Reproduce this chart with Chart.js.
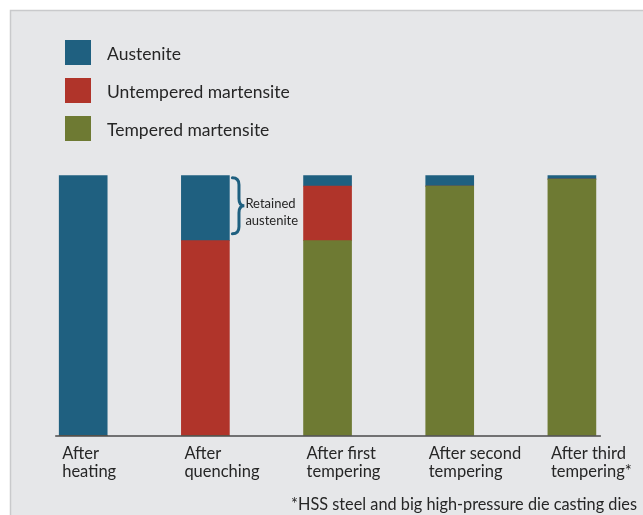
<!DOCTYPE html>
<html>
<head>
<meta charset="utf-8">
<script src="https://cdn.jsdelivr.net/npm/chart.js@4/dist/chart.umd.min.js"></script>
<style>
  html, body { margin: 0; padding: 0; background: #ffffff; }
  #c { display: block; }
</style>
</head>
<body>
<canvas id="c" width="643" height="515"></canvas>
<script>
// ---- data ----
const stages = ["After heating", "After quenching", "After first tempering", "After second tempering", "After third tempering*"];
const stageLabelLines = [["After", "heating"], ["After", "quenching"], ["After first", "tempering"], ["After second", "tempering"], ["After third", "tempering*"]];
const temperedMartensite   = [0, 0, 75, 96, 98.7];
const untemperedMartensite = [0, 75, 21, 0, 0];
const austenite            = [100, 25, 4, 4, 1.3];
const seriesNames = ["Tempered martensite", "Untempered martensite", "Austenite"];
const annotationLines = ["Retained", "austenite"];
const footnote = "*HSS steel and big high-pressure die casting dies";

const COLORS = { tempered: "#6e7a33", untempered: "#b0342a", austenite: "#1f6080" };
const FONT = "Lato, 'Open Sans', sans-serif";
const TEXT = "#262626";

const panelPlugin = {
  id: "panel",
  beforeDraw(chart) {
    const ctx = chart.ctx;
    ctx.save();
    ctx.fillStyle = "#ffffff";
    ctx.fillRect(0, 0, chart.width, chart.height);
    ctx.fillStyle = "#e6e7e9";
    ctx.fillRect(10.5, 10.5, chart.width, chart.height);
    ctx.strokeStyle = "#c9cacc";
    ctx.lineWidth = 1.5;
    ctx.beginPath();
    ctx.moveTo(10.5, chart.height);
    ctx.lineTo(10.5, 10.5);
    ctx.lineTo(chart.width, 10.5);
    ctx.stroke();
    ctx.restore();
  }
};

const decorPlugin = {
  id: "decor",
  afterDatasetsDraw(chart) {
    const ctx = chart.ctx;
    const yScale = chart.scales.y;
    const bars = chart.getDatasetMeta(0).data;
    const axisY = yScale.getPixelForValue(0);
    ctx.save();

    // baseline axis line
    const first = bars[0], last = bars[bars.length - 1];
    ctx.strokeStyle = "#4a4a4a";
    ctx.lineWidth = 1.5;
    ctx.beginPath();
    ctx.moveTo(first.x - first.width / 2 - 4, axisY + 0.5);
    ctx.lineTo(last.x + last.width / 2 + 5, axisY + 0.5);
    ctx.stroke();

    // category labels, left aligned under each bar
    ctx.fillStyle = TEXT;
    ctx.font = "16.5px " + FONT;
    ctx.textAlign = "left";
    ctx.textBaseline = "alphabetic";
    bars.forEach((b, i) => {
      const x = b.x - b.width / 2 + 3;
      stageLabelLines[i].forEach((line, j) => {
        ctx.fillText(line, x, axisY + 23 + j * 18.4);
      });
    });

    // legend (top of stack first)
    const legendItems = chart.data.datasets.map((d) => ({ label: d.label, color: d.backgroundColor })).reverse();
    ctx.font = "17.5px " + FONT;
    ctx.textBaseline = "alphabetic";
    legendItems.forEach((it, i) => {
      const y = 40 + i * 38;
      ctx.fillStyle = it.color;
      ctx.fillRect(65, y, 26, 25);
      ctx.fillStyle = TEXT;
      ctx.fillText(it.label, 107, y + 19.5);
    });

    // brace annotation for retained austenite on the "After quenching" bar
    const aMeta = chart.getDatasetMeta(2).data[1];
    const rMeta = chart.getDatasetMeta(1).data[1];
    const x0 = aMeta.x + aMeta.width / 2 + 3;
    const top = aMeta.y + 2;
    const bottom = rMeta.y - 7;
    const mid = (top + bottom) / 2;
    const w = 12;
    const r = 7;
    ctx.strokeStyle = COLORS.austenite;
    ctx.lineWidth = 3;
    ctx.lineCap = "round";
    ctx.beginPath();
    ctx.moveTo(x0, top);
    ctx.quadraticCurveTo(x0 + w * 0.55, top, x0 + w * 0.55, top + r);
    ctx.lineTo(x0 + w * 0.55, mid - r);
    ctx.quadraticCurveTo(x0 + w * 0.55, mid, x0 + w, mid);
    ctx.quadraticCurveTo(x0 + w * 0.55, mid, x0 + w * 0.55, mid + r);
    ctx.lineTo(x0 + w * 0.55, bottom - r);
    ctx.quadraticCurveTo(x0 + w * 0.55, bottom, x0, bottom);
    ctx.stroke();

    ctx.fillStyle = TEXT;
    ctx.font = "13px " + FONT;
    ctx.textBaseline = "alphabetic";
    ctx.fillText(annotationLines[0], x0 + w + 1, mid + 2);
    ctx.fillText(annotationLines[1], x0 + w + 1, mid + 19);

    // footnote
    ctx.font = "16.3px " + FONT;
    ctx.textAlign = "right";
    ctx.fillText(footnote, 637, 510);

    ctx.restore();
  }
};

new Chart(document.getElementById("c"), {
  type: "bar",
  data: {
    labels: stages,
    datasets: [
      { label: seriesNames[0], data: temperedMartensite, backgroundColor: COLORS.tempered },
      { label: seriesNames[1], data: untemperedMartensite, backgroundColor: COLORS.untempered },
      { label: seriesNames[2], data: austenite, backgroundColor: COLORS.austenite }
    ]
  },
  options: {
    responsive: false,
    animation: false,
    devicePixelRatio: 1,
    layout: { padding: { left: 83.2, right: 71.1, top: 175.7, bottom: 79.5 } },
    datasets: { bar: { barThickness: 48, borderWidth: 0, clip: false } },
    scales: {
      x: { type: "category", stacked: true, offset: false, display: false },
      y: { stacked: true, min: 0, max: 100, display: false }
    },
    plugins: { legend: { display: false }, tooltip: { enabled: false } }
  },
  plugins: [panelPlugin, decorPlugin]
});
</script>
</body>
</html>
